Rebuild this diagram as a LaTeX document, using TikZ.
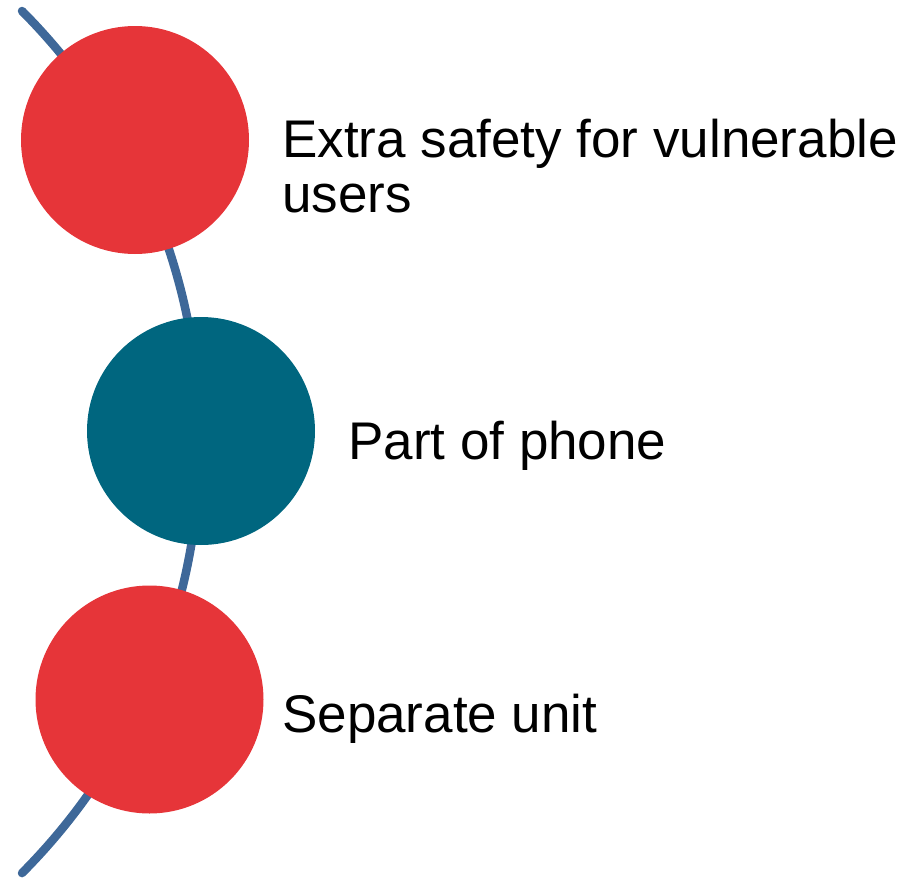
\documentclass[tikz,border=0pt]{standalone}
\usepackage{fontspec}
\setmainfont{Liberation Sans}
\definecolor{dotred}{RGB}{230,53,57}
\definecolor{dotteal}{RGB}{0,102,127}
\definecolor{arcblue}{RGB}{62,104,153}
\tikzset{
  dot/.style={circle, inner sep=0pt, minimum size=228pt},
  lbl/.style={anchor=base west, inner sep=0pt, align=left, font=\fontsize{53}{55}\selectfont},
}
\begin{document}
\begin{tikzpicture}[x=1pt,y=-1pt]
\useasboundingbox (0,0) rectangle (919,878);
\draw[arcblue, line width=8.5pt, line cap=round] (22,11) arc[start angle=44.87, end angle=-44.87, radius=611pt];
\node[dot, fill=dotred] (c1) at (135,140) {};
\node[dot, fill=dotteal] (c2) at (201,431) {};
\node[dot, fill=dotred] (c3) at (149.5,699.5) {};
\node[lbl] (t1) at (282,212) {Extra safety for vulnerable\\users};
\node[lbl] (t2) at (348,459) {Part of phone};
\node[lbl] (t3) at (282,732) {Separate unit};
\end{tikzpicture}
\end{document}
